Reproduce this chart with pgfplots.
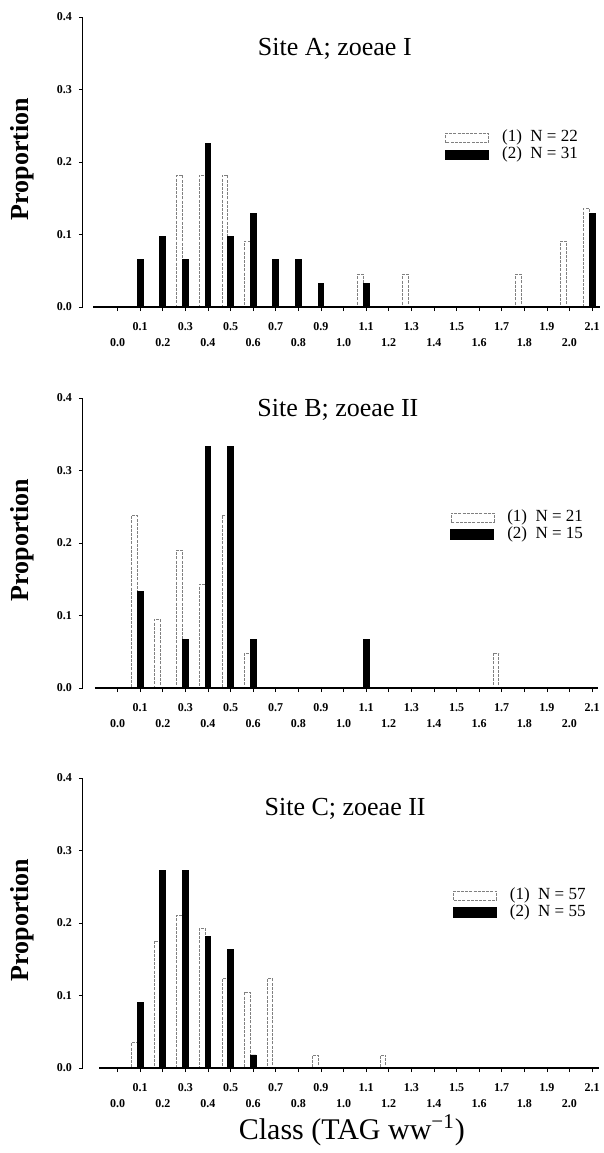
\documentclass[border=0pt]{standalone}
\usepackage{fontspec}
\setmainfont{Liberation Serif}
\usepackage{pgfplots}
\pgfplotsset{compat=1.18}

\pgfplotsset{
  zoea/.style={
    scale only axis,
    width=258.5pt, height=145pt,
    xmin=-0.153, xmax=2.135,
    ymin=0, ymax=0.4,
    ybar, bar width=2.9pt,
    axis lines*=left,
    x axis line style={draw=none},
    y axis line style={line width=0.5pt},
    ytick={0,0.1,0.2,0.3,0.4},
    yticklabels={0.0,0.1,0.2,0.3,0.4},
    xtick={0.1,0.3,0.5,0.7,0.9,1.1,1.3,1.5,1.7,1.9,2.1},
    xticklabels={0.1,0.3,0.5,0.7,0.9,1.1,1.3,1.5,1.7,1.9,2.1},
    extra x ticks={0,0.2,0.4,0.6,0.8,1.0,1.2,1.4,1.6,1.8,2.0},
    extra x tick labels={0.0,0.2,0.4,0.6,0.8,1.0,1.2,1.4,1.6,1.8,2.0},
    extra x tick style={xticklabel style={yshift=-8pt}},
    tick align=outside,
    major tick length=2pt,
    tick style={line width=0.4pt, black},
    /pgf/number format/assume math mode=true,
    tick label style={font=\fontsize{6}{6.5}\selectfont\bfseries},
    xticklabel style={anchor=center, yshift=-8pt},
    ylabel={Proportion},
    ylabel style={at={(axis description cs:-0.118,0.51)}, anchor=center,
      font=\fontsize{13}{14}\selectfont\bfseries},
    every axis title shift=0pt,
    title style={anchor=center, font=\fontsize{13}{15}\selectfont},
    legend style={draw=none, fill=none, inner sep=0pt, anchor=north west,
      font=\fontsize{8.5}{9}\selectfont, row sep=0.5pt,
      nodes={inner sep=0.5pt, text height=5.5pt, text depth=1.5pt},
      /tikz/every odd column/.append style={column sep=6pt}},
    legend cell align=left,
    legend image code/.code={\draw[##1] (0pt,-2.3pt) rectangle (21.5pt,2.3pt);},
  },
  grp1/.style={bar shift=-2.9pt, fill=white, draw=black!50, line width=0.35pt,
    dash pattern=on 1.5pt off 0.6pt},
  grp2/.style={bar shift=0pt, fill=black, draw=black},
}

\begin{document}
\begin{tikzpicture}
\useasboundingbox (0pt,0pt) rectangle (302pt,-576.5pt);

% Site A
\begin{axis}[zoea, at={(41.5pt,-153.5pt)}, anchor=south west,
  title={Site A; zoeae I},
  title style={at={(axis description cs:0.487,0.89)}},
  legend style={at={(axis description cs:0.70,0.612)}}]
\addplot[grp1] coordinates {(0.3,0.182) (0.4,0.182) (0.5,0.182) (0.6,0.091)
  (1.1,0.045) (1.3,0.045) (1.8,0.045) (2.0,0.091) (2.1,0.136)};
\addplot[grp2] coordinates {(0.1,0.065) (0.2,0.097) (0.3,0.065) (0.4,0.226)
  (0.5,0.097) (0.6,0.129) (0.7,0.065) (0.8,0.065) (0.9,0.032) (1.1,0.032) (2.1,0.129)};
\legend{(1)\ \ N = 22, (2)\ \ N = 31}
\draw[line width=0.8pt] (axis cs:-0.108,0) -- (axis cs:2.135,0);
\end{axis}

% Site B
\begin{axis}[zoea, at={(41.5pt,-344pt)}, anchor=south west,
  title={Site B; zoeae II},
  title style={at={(axis description cs:0.493,0.96)}},
  legend style={at={(axis description cs:0.71,0.617)}}]
\addplot[grp1] coordinates {(0.1,0.238) (0.2,0.095) (0.3,0.190) (0.4,0.143)
  (0.5,0.238) (0.6,0.048) (1.7,0.048)};
\addplot[grp2] coordinates {(0.1,0.133) (0.3,0.067) (0.4,0.333) (0.5,0.333)
  (0.6,0.067) (1.1,0.067)};
\legend{(1)\ \ N = 21, (2)\ \ N = 15}
\draw[line width=0.8pt] (axis cs:-0.10,0) -- (axis cs:2.125,0);
\end{axis}

% Site C
\begin{axis}[zoea, at={(41.5pt,-534pt)}, anchor=south west,
  title={Site C; zoeae II},
  title style={at={(axis description cs:0.507,0.894)}},
  legend style={at={(axis description cs:0.715,0.624)}},
  xlabel={Class (TAG ww\textsuperscript{−1})},
  xlabel style={at={(axis description cs:0.52,-0.214)}, anchor=center,
    font=\fontsize{15}{17}\selectfont}]
\addplot[grp1] coordinates {(0.1,0.035) (0.2,0.175) (0.3,0.211) (0.4,0.193)
  (0.5,0.123) (0.6,0.105) (0.7,0.123) (0.9,0.018) (1.2,0.018)};
\addplot[grp2] coordinates {(0.1,0.091) (0.2,0.273) (0.3,0.273) (0.4,0.182)
  (0.5,0.164) (0.6,0.018)};
\legend{(1)\ \ N = 57, (2)\ \ N = 55}
\draw[line width=0.8pt] (axis cs:-0.08,0) -- (axis cs:2.13,0);
\end{axis}
\end{tikzpicture}
\end{document}
